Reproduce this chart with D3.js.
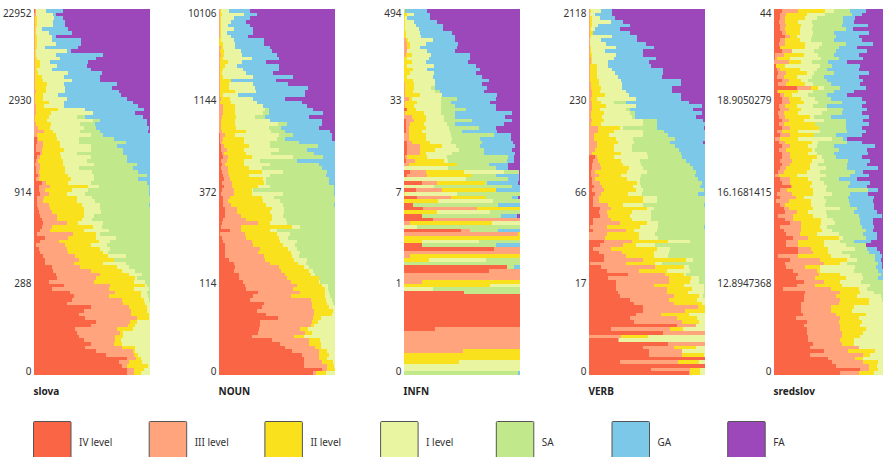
<!DOCTYPE html>
<html>
<head>
<meta charset="utf-8">
<script src="https://d3js.org/d3.v7.min.js"></script>
<style>
    html, body {margin: 0; padding: 0; background: #fff; overflow: hidden;}
    text {font-family: "Noto Sans", sans-serif; fill: #333;}
</style>
</head>
<body>
<div id="chart"></div>
<script>
// right edge of each level, in percent of the row, top row first
var levels = ["IV level", "III level", "II level", "I level", "SA", "GA", "FA"];
var colors = ["#f96545", "#ffa47c", "#f9e11e", "#e9f5a0", "#c1e98b", "#7cc8e8", "#9c47ba"];

var slovaTicks = ["22952", "2930", "914", "288", "0"];
var nounTicks = ["10106", "1144", "372", "114", "0"];
var infnTicks = ["494", "33", "7", "1", "0"];
var verbTicks = ["2118", "230", "66", "17", "0"];
var sredslovTicks = ["44", "18.9050279", "16.1681415", "12.8947368", "0"];
var tickRows = [0, 24, 49, 74, 98];

var slovaIV = [1,0,0,0,0,0,0,0,0,0, 0,0,0,0,0,0,0,0,0,0, 0,0,0,0,0,0,0,0,0,0, 0,0,0,0,0,3,3,2,2,6,
    3,2,1,2,2,4,2,7,5,5, 6,3,3,3,4,5,6,7,8,7, 6,3,10,6,2,5,6,8,10,10, 16,17,19,20,13,26,16,31,35,33,
    29,49,43,39,44,54,49,36,37,39, 43,49,44,54,62,80,73,76,80,80];
var slovaIII = [2,2,1,1,1,1,1,1,1,1, 1,1,1,1,1,1,1,1,1,1, 1,1,2,1,1,1,2,2,2,1, 1,2,4,9,3,4,8,8,7,7,
    6,4,6,6,5,6,5,11,14,10, 13,9,8,13,14,16,20,20,29,16, 14,34,30,22,27,29,30,36,39,35, 40,49,57,54,52,66,65,70,65,76,
    77,82,84,84,89,83,81,72,74,70, 70,69,76,85,86,88,82,80,86,86];
var slovaII = [2,2,3,3,3,2,2,3,3,3, 3,2,2,3,6,6,3,4,7,8, 12,11,11,8,8,13,9,21,15,13, 12,15,14,17,19,20,23,23,26,23,
    24,25,25,27,27,30,32,30,47,33, 29,37,37,42,43,43,43,42,38,51, 43,54,54,56,49,57,60,64,72,60, 72,76,82,87,86,96,86,92,92,95,
    96,97,97,99,99,89,87,85,77,77, 75,76,87,87,90,92,93,98,95,92];
var slovaI = [11,17,18,17,17,7,13,16,16,19, 10,29,19,23,14,20,16,30,26,33, 26,27,27,21,29,26,26,44,51,37, 51,40,43,40,49,39,39,49,49,37,
    49,46,52,39,50,52,52,49,56,47, 44,50,53,57,57,58,52,50,60,59, 65,57,71,66,63,66,64,79,69,79, 82,87,93,89,96,97,99,97,98,99,
    100,100,100,100,100,100,100,100,100,100, 100,100,100,100,100,100,100,100,100,100];
var slovaSA = [11,17,18,17,17,7,13,16,16,19, 10,29,19,23,14,20,16,30,26,33, 26,27,27,21,29,26,26,44,51,44, 57,53,54,57,60,69,79,72,77,77,
    80,80,89,85,90,97,90,97,99,99, 99,100,100,99,100,100,100,100,100,100, 100,100,100,100,100,100,100,100,100,100, 100,100,100,100,100,100,100,100,100,100,
    100,100,100,100,100,100,100,100,100,100, 100,100,100,100,100,100,100,100,100,100];
var slovaGA = [25,19,25,27,27,30,33,19,41,41, 38,32,60,54,47,46,49,59,57,57, 72,67,73,75,80,85,90,95,87,94, 97,97,99,98,100,100,100,100,100,100,
    100,100,100,100,100,100,100,100,100,100, 100,100,100,100,100,100,100,100,100,100, 100,100,100,100,100,100,100,100,100,100, 100,100,100,100,100,100,100,100,100,100,
    100,100,100,100,100,100,100,100,100,100, 100,100,100,100,100,100,100,100,100,100];

var nounIV = [0,0,0,0,0,0,0,0,0,0, 0,0,0,0,0,0,0,0,0,0, 0,0,0,0,0,0,0,0,0,0, 0,0,0,0,1,1,1,2,2,3,
    4,2,3,2,3,4,5,3,5,3, 2,4,4,4,6,6,6,4,3,2, 10,1,3,4,6,6,6,6,9,13, 14,13,18,18,21,23,24,34,30,27,
    39,37,33,41,51,36,36,35,34,29, 46,53,57,63,72,73,73,73,89,81];
var nounIII = [1,1,1,1,1,1,1,1,0,0, 2,1,2,1,1,1,1,1,1,1, 1,1,1,1,2,1,4,4,4,3, 2,2,2,3,6,4,3,5,7,5,
    8,7,6,8,8,9,10,12,12,13, 13,10,8,11,16,16,19,24,34,19, 19,23,24,29,30,36,34,39,40,44, 52,54,57,59,62,67,64,70,62,79,
    80,80,82,82,81,80,79,70,74,65, 78,78,83,86,86,86,89,93,93,84];
var nounII = [2,3,2,2,2,2,2,2,2,4, 4,5,5,4,8,6,4,3,4,11, 9,9,14,4,10,11,14,14,14,15, 14,14,15,24,14,22,22,26,22,24,
    29,22,22,26,37,26,38,39,34,29, 29,37,38,41,46,44,46,46,44,63, 44,50,52,53,55,60,62,63,65,68, 73,78,79,86,86,89,91,91,91,92,
    93,95,98,97,88,85,82,77,80,73, 87,88,88,93,95,93,98,99,100,92];
var nounI = [9,22,13,11,8,13,7,11,13,14, 14,19,20,29,20,16,21,24,30,11, 30,31,32,17,30,33,38,40,38,31, 44,51,43,45,52,50,44,44,52,45,
    64,36,44,37,55,44,41,41,44,30, 55,48,53,55,56,56,55,58,59,70, 50,61,60,67,66,67,70,69,76,75, 78,81,83,86,87,94,94,95,96,97,
    98,100,100,100,100,100,100,100,100,100, 100,100,100,100,100,100,100,100,100,100];
var nounSA = [9,22,13,11,8,13,7,11,13,14, 14,19,20,29,20,16,21,24,30,11, 30,31,32,17,30,33,38,43,43,40, 44,59,54,57,64,57,69,85,76,82,
    90,67,86,89,93,92,95,95,99,99, 99,100,100,99,100,100,100,100,100,100, 100,100,100,100,100,100,100,100,100,100, 100,100,100,100,100,100,100,100,100,100,
    100,100,100,100,100,100,100,100,100,100, 100,100,100,100,100,100,100,100,100,100];
var nounGA = [27,33,27,24,27,30,30,25,39,39, 44,46,50,52,41,52,52,47,64,49, 60,77,74,74,57,72,76,81,90,78, 89,89,86,96,97,97,100,100,100,100,
    100,100,100,100,100,100,100,100,100,100, 100,100,100,100,100,100,100,100,100,100, 100,100,100,100,100,100,100,100,100,100, 100,100,100,100,100,100,100,100,100,100,
    100,100,100,100,100,100,100,100,100,100, 100,100,100,100,100,100,100,100,100,100];

var infnIV = [0,0,0,0,0,0,0,0,0,0, 0,0,0,0,0,0,0,0,0,0, 0,0,0,0,0,0,0,3,0,0, 2,2,2,2,0,0,3,3,3,3,
    1,2,0,0,6,3,0,16,0,11, 0,12,0,8,17,0,16,25,0,0, 49,0,0,0,16,78,0,0,0,0, 89,73,0,0,0,0,0,52,100,100,
    100,100,100,100,100,100,100,27,0,0, 0,0,0,0,0,0,0,0,0,0];
var infnIII = [0,0,0,0,0,0,0,0,2,3, 3,3,2,0,0,0,0,0,0,0, 1,1,1,1,5,1,1,3,1,7, 9,6,5,5,5,5,7,14,14,14,
    3,10,5,0,19,20,0,29,0,33, 0,41,0,8,63,0,16,100,6,0, 57,98,0,0,16,100,100,6,0,0, 89,100,100,100,16,0,0,52,100,100,
    100,100,100,100,100,100,100,100,100,100, 100,100,100,51,0,0,0,0,0,0];
var infnII = [1,3,1,1,1,1,2,2,4,6, 6,3,7,3,7,3,8,6,3,8, 9,9,8,14,7,12,9,11,18,19, 19,18,19,16,19,19,23,33,27,19,
    20,35,46,0,52,59,0,70,0,79, 1,71,30,8,100,29,16,100,76,0, 57,100,100,16,16,100,100,100,22,0, 89,100,100,100,100,74,0,52,100,100,
    100,100,100,100,100,100,100,100,100,100, 100,100,100,100,100,100,48,0,0,0];
var infnI = [1,9,3,9,11,13,14,15,25,19, 14,20,24,22,19,26,20,26,25,27, 27,24,27,33,32,32,32,32,32,35, 35,37,39,40,41,42,41,45,48,42,
    37,38,46,38,86,59,54,70,26,79, 46,71,77,8,100,74,16,100,100,12, 57,100,100,65,16,100,100,100,71,0, 89,100,100,100,100,100,25,52,100,100,
    100,100,100,100,100,100,100,100,100,100, 100,100,100,100,100,100,100,100,100,0];
var infnSA = [1,9,3,9,11,13,14,15,25,19, 14,20,24,22,19,26,20,26,25,27, 27,27,31,33,46,41,44,54,44,44, 59,44,65,50,78,66,67,66,69,69,
    90,89,73,79,99,79,90,72,93,79, 100,93,100,81,100,100,84,100,100,100, 81,100,100,100,79,100,100,100,100,100, 95,100,100,100,100,100,100,100,100,100,
    100,100,100,100,100,100,100,100,100,100, 100,100,100,100,100,100,100,100,100,98];
var infnGA = [20,23,23,29,34,34,42,44,44,47, 46,44,57,57,55,62,66,62,67,73, 67,72,69,80,79,74,79,79,93,87, 93,86,79,80,92,92,94,96,93,96,
    95,95,90,90,99,99,99,98,100,100, 100,98,100,100,100,100,97,100,100,100, 100,100,100,100,100,100,100,100,100,100, 100,100,100,100,100,100,100,100,100,100,
    100,100,100,100,100,100,100,100,100,100, 100,100,100,100,100,100,100,100,100,100];

var verbIV = [0,0,0,0,0,0,0,0,0,0, 0,0,0,0,0,0,0,0,0,0, 0,0,0,0,0,0,0,0,0,0, 0,0,0,0,0,0,0,0,0,0,
    6,4,3,3,2,2,3,3,5,3, 6,4,4,4,10,9,10,4,4,1, 4,0,0,13,10,4,9,13,13,1, 11,16,34,17,24,24,24,25,27,36,
    39,47,47,41,36,39,76,19,64,0, 25,68,47,52,52,100,27,100,54,86];
var verbIII = [1,1,1,1,1,1,1,1,1,1, 1,1,1,2,2,1,1,1,1,1, 2,2,3,3,2,3,3,3,2,2, 3,2,8,8,5,5,7,7,6,3,
    7,8,10,11,6,9,6,10,12,13, 11,9,9,17,19,16,17,19,27,16, 32,16,14,37,30,19,29,32,47,32, 57,43,66,69,69,56,67,67,73,69,
    73,94,83,62,76,80,92,70,100,28, 26,100,73,80,80,100,77,100,87,87];
var verbII = [2,1,3,3,3,2,4,2,1,1, 2,2,3,3,3,7,7,7,7,9, 9,11,10,14,7,11,15,10,13,12, 13,11,27,22,18,24,25,22,22,28,
    22,28,30,35,33,28,33,42,38,41, 34,47,47,30,50,37,36,37,50,44, 39,43,43,68,41,59,56,56,84,57, 82,67,82,88,87,82,89,85,95,93,
    97,100,100,86,93,95,92,81,100,51, 26,100,92,80,99,100,95,100,96,96];
var verbI = [11,6,10,19,8,6,4,20,11,15, 24,14,24,22,17,17,20,23,25,28, 29,29,32,35,41,22,41,32,36,37, 47,47,30,47,47,38,39,37,37,50,
    51,44,45,47,50,45,44,44,45,47, 46,59,59,47,56,54,54,54,60,60, 59,57,60,87,57,70,69,68,90,63, 86,87,84,95,95,99,99,99,98,100,
    100,100,100,100,100,100,100,100,100,100, 100,100,100,100,100,100,100,100,100,100];
var verbSA = [11,6,10,19,8,6,4,20,11,15, 24,14,24,22,17,17,20,23,25,28, 29,29,32,35,41,32,41,36,40,40, 59,59,59,65,68,74,70,74,78,79,
    80,84,87,90,92,91,94,97,96,99, 94,100,100,99,100,100,100,100,100,99, 100,100,100,100,100,100,100,100,100,100, 100,100,100,100,100,100,100,100,100,100,
    100,100,100,100,100,100,100,100,100,100, 100,100,100,100,100,100,100,100,100,100];
var verbGA = [20,20,23,30,36,27,36,42,42,49, 56,47,47,58,52,54,64,64,63,79, 79,72,72,79,79,86,97,90,97,92, 98,100,99,100,100,100,98,100,100,100,
    100,100,100,100,100,100,100,100,100,100, 100,100,100,100,100,100,100,100,100,100, 100,100,100,100,100,100,100,100,100,100, 100,100,100,100,100,100,100,100,100,100,
    100,100,100,100,100,100,100,100,100,100, 100,100,100,100,100,100,100,100,100,100];

var sredslovIV = [7,6,6,5,6,6,7,10,6,5, 6,7,1,1,0,7,3,4,3,7, 4,20,3,6,7,7,5,6,4,5, 7,5,7,3,6,1,5,7,5,7,
    7,6,7,6,4,1,6,7,15,6, 3,6,2,6,9,10,4,10,14,6, 9,11,17,11,11,21,21,4,14,10, 11,17,21,19,26,20,8,27,26,26,
    24,24,24,25,19,29,26,29,29,30, 30,34,31,43,31,47,50,54,74,57];
var sredslovIII = [21,11,10,10,11,10,11,14,10,10, 6,16,9,3,13,2,6,11,9,13, 11,32,4,9,13,14,10,13,9,10, 13,9,14,7,14,6,10,14,11,14,
    14,16,14,11,9,5,14,14,16,12, 16,19,13,10,13,20,17,17,24,24, 24,23,30,21,21,32,34,21,40,43, 27,37,39,36,43,36,49,57,54,57,
    56,49,49,54,57,56,57,57,59,59, 57,59,73,64,77,70,77,82,82,73];
var sredslovII = [44,29,27,21,24,23,23,20,23,27, 27,16,26,14,24,10,23,29,20,24, 27,38,21,16,24,26,20,24,21,31, 26,36,39,21,39,21,33,30,33,30,
    37,33,31,31,29,20,30,33,31,34, 34,26,32,32,34,30,34,41,41,40, 42,37,56,43,43,47,47,49,63,57, 40,40,57,62,57,59,73,74,72,82,
    82,69,67,79,73,76,74,79,77,74, 69,69,73,87,83,77,90,89,90,86];
var sredslovI = [52,44,37,33,34,33,34,33,32,42, 39,35,38,41,33,40,37,35,33,30, 34,43,34,30,36,38,34,46,42,35, 43,36,39,40,35,50,38,37,36,37,
    42,43,38,45,40,45,40,43,46,45, 50,43,45,44,57,45,46,51,53,46, 50,56,60,57,62,70,59,66,72,63, 70,69,76,77,75,83,80,86,92,93,
    97,100,100,100,100,100,100,100,100,100, 100,100,100,100,100,100,100,100,100,100];
var sredslovSA = [66,67,60,60,59,62,52,54,52,62, 56,54,52,56,47,50,46,52,43,46, 49,57,52,46,49,59,46,60,59,49, 62,62,62,63,54,60,63,52,56,52,
    54,64,63,63,70,66,56,66,64,81, 66,64,65,66,72,69,73,74,74,76, 79,77,79,69,82,80,82,87,87,90, 88,90,92,90,95,100,100,100,100,100,
    100,100,100,100,100,100,100,100,100,100, 100,100,100,100,100,100,100,100,100,100];
var sredslovGA = [79,76,70,69,81,68,82,73,76,85, 72,80,73,77,63,74,73,82,73,77, 74,79,69,63,76,79,76,80,76,82, 77,82,76,79,76,63,76,87,80,81,
    76,83,80,90,77,82,72,83,80,90, 81,86,85,86,86,89,93,85,85,86, 85,89,89,84,79,89,91,93,92,93, 93,95,100,100,100,100,100,100,100,100,
    100,100,100,100,100,100,100,100,100,100, 100,100,100,100,100,100,100,100,100,100];

var panels = [
    {name: "slova", ticks: slovaTicks, edges: [slovaIV, slovaIII, slovaII, slovaI, slovaSA, slovaGA]},
    {name: "NOUN", ticks: nounTicks, edges: [nounIV, nounIII, nounII, nounI, nounSA, nounGA]},
    {name: "INFN", ticks: infnTicks, edges: [infnIV, infnIII, infnII, infnI, infnSA, infnGA]},
    {name: "VERB", ticks: verbTicks, edges: [verbIV, verbIII, verbII, verbI, verbSA, verbGA]},
    {name: "sredslov", ticks: sredslovTicks, edges: [sredslovIV, sredslovIII, sredslovII, sredslovI, sredslovSA, sredslovGA]}
];

var width = 883,
    height = 457,
    plotLeft = 33.5,
    plotWidth = 116.5,
    panelStep = 185,
    plotTop = 9,
    plotBottom = 375,
    legendStep = 115.7;

var svg = d3.select("#chart").append("svg")
    .attr("width", width)
    .attr("height", height);

var x = d3.scaleLinear().domain([0, 100]).range([0, plotWidth]);
var y = d3.scaleBand().domain(d3.range(100)).range([plotTop, plotBottom]);

panels.forEach(function (panel, p) {
    var g = svg.append("g")
        .attr("transform", "translate(" + (plotLeft + p * panelStep) + ",0)");

    levels.forEach(function (level, l) {
        g.append("g").selectAll("rect")
            .data(d3.range(100))
            .enter().append("rect")
            .attr("x", function (r) {
                return x(l === 0 ? 0 : panel.edges[l - 1][r]);
            })
            .attr("y", function (r) {
                return y(r);
            })
            .attr("width", function (r) {
                var from = l === 0 ? 0 : panel.edges[l - 1][r],
                    to = l === 6 ? 100 : panel.edges[l][r];
                return Math.max(0, x(to) - x(from));
            })
            .attr("height", y.bandwidth())
            .attr("shape-rendering", "crispEdges")
            .style("fill", colors[l]);
    });

    var axis = d3.axisLeft(y)
        .tickValues(tickRows)
        .tickSize(0)
        .tickPadding(2)
        .tickFormat(function (d, i) {
            return panel.ticks[i];
        });

    var axisG = g.append("g").call(axis);
    axisG.select(".domain").remove();
    axisG.selectAll("text")
        .attr("transform", "translate(0,2.5)")
        .style("font-family", '"Noto Sans", sans-serif')
        .style("font-size", "10px")
        .style("fill", "#333");

    g.append("text")
        .attr("x", 0)
        .attr("y", 395)
        .style("font-size", "10px")
        .style("font-weight", "bold")
        .style("fill", "#222")
        .text(panel.name);
});

var legend = svg.selectAll(".legend")
    .data(levels)
    .enter().append("g")
    .attr("class", "legend")
    .attr("transform", function (d, i) {
        return "translate(" + (plotLeft + i * legendStep) + ",421.5)";
    });

legend.append("rect")
    .attr("width", 37.5)
    .attr("height", 50)
    .attr("rx", 1)
    .style("fill", function (d, i) {
        return colors[i];
    })
    .style("stroke", "#555")
    .style("stroke-width", 1);

legend.append("text")
    .attr("x", 45.5)
    .attr("y", 24)
    .style("font-size", "10px")
    .text(function (d) {
        return d;
    });
</script>
</body>
</html>
